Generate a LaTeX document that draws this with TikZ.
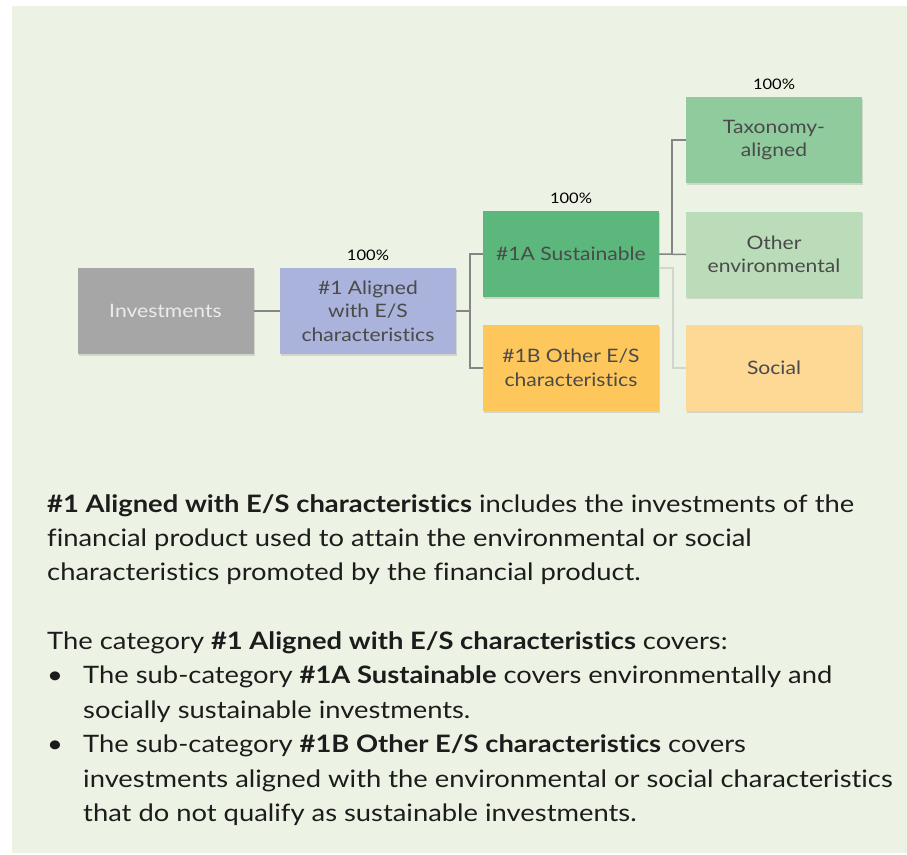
\documentclass[tikz,border=0pt]{standalone}
\usepackage{fontspec}
\setmainfont{Lato}[FakeStretch=1.14, Ligatures=NoCommon]
\usetikzlibrary{shadows}
\definecolor{bg}{HTML}{EDF3E4}
\definecolor{invgray}{HTML}{A6A6A6}
\definecolor{lav}{HTML}{AAB3DC}
\definecolor{sgreen}{HTML}{5BB77C}
\definecolor{orangeA}{HTML}{FEC75C}
\definecolor{tgreen}{HTML}{8FCB9D}
\definecolor{lgreen}{HTML}{BADCB8}
\definecolor{lorange}{HTML}{FED995}
\definecolor{boxtext}{HTML}{4A4A4A}
\definecolor{conncol}{HTML}{858585}
\definecolor{faintcol}{HTML}{D2D5CE}
\definecolor{bodytext}{HTML}{1C1C1C}
\tikzset{
  box/.style={rectangle, minimum width=176pt, minimum height=86pt, inner sep=2pt,
    align=center, text=boxtext, font=\fontsize{18.5}{23.5}\selectfont,
    drop shadow={opacity=0.25, shadow xshift=1pt, shadow yshift=-1.5pt}},
  pct/.style={anchor=base, inner sep=0pt, font=\fontsize{14.5}{16}\selectfont, text=black},
  conn/.style={draw=conncol, line width=1.5pt},
  faint/.style={draw=faintcol, line width=1.5pt},
  txt/.style={anchor=base west, inner sep=0pt, font=\fontsize{24}{30}\selectfont, text=bodytext}
}
\begin{document}
\begin{tikzpicture}[x=1pt,y=-1pt]
\useasboundingbox (0,0) rectangle (907,854);
\fill[white] (0,0) rectangle (907,854);
\fill[bg] (12,6) rectangle (907,853);

% boxes
\node[box, fill=invgray, text=white!92!black] (inv) at (165.5,311) {Investments};
\node[box, fill=lav] (a1) at (368,311) {\#1 Aligned\\with E/S\\characteristics};
\node[box, fill=sgreen] (s1a) at (571,254) {\#1A Sustainable};
\node[box, fill=orangeA] (s1b) at (571,368) {\#1B Other E/S\\characteristics};
\node[box, fill=tgreen] (tax) at (774,140) {Taxonomy-\\aligned};
\node[box, fill=lgreen] (oenv) at (774,254.5) {Other\\environmental};
\node[box, fill=lorange] (soc) at (774,368) {Social};

% percentages
\node[pct] (p1) at ([yshift=7pt]a1.north) {100\%};
\node[pct] (p2) at ([yshift=7pt]s1a.north) {100\%};
\node[pct] (p3) at ([yshift=7pt]tax.north) {100\%};

% connectors
\coordinate (j1) at (470,311);
\coordinate (j2) at (672,254);
\coordinate (j3) at (673,368);
\draw[conn] (inv) -- (a1);
\draw[conn] (a1.east) -- (j1);
\draw[conn] (s1a.west) -| (j1) |- (s1b.west);
\draw[conn] (s1a.east) -- (oenv.west);
\draw[conn] (j2) |- (tax.west);
\draw[faint] ([yshift=-14pt]s1a.east) -| (j3) -- (soc.west);

% text
\node[txt] (t1) at (47,512) {\textbf{\#1 Aligned with E/S characteristics} includes the investments of the};
\node[txt] (t2) at (47,546) {financial product used to attain the environmental or social};
\node[txt] (t3) at (47,580) {characteristics promoted by the financial product.};
\node[txt] (t4) at (47,649) {The category \textbf{\#1 Aligned with E/S characteristics} covers:};
\node[txt] (b1) at (47,683.5) {\textbullet};
\node[txt] (t5) at (83,683.5) {The sub-category \textbf{\#1A Sustainable} covers environmentally and};
\node[txt] (t6) at (83,718) {socially sustainable investments.};
\node[txt] (b2) at (47,752.5) {\textbullet};
\node[txt] (t7) at (83,752.5) {The sub-category \textbf{\#1B Other E/S characteristics} covers};
\node[txt] (t8) at (83,787) {investments aligned with the environmental or social characteristics};
\node[txt] (t9) at (83,821) {that do not qualify as sustainable investments.};
\end{tikzpicture}
\end{document}
